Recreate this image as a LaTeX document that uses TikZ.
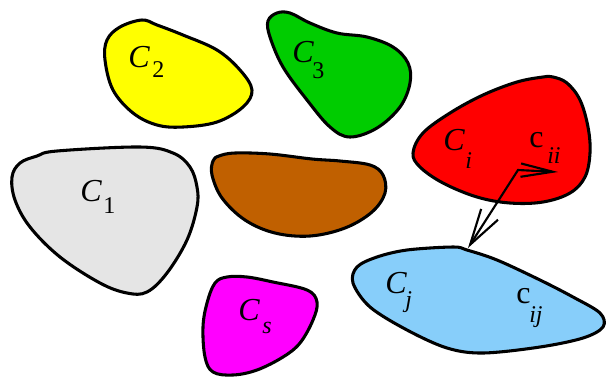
\documentclass[tikz,border=0pt]{standalone}
\usepackage{fontspec}
\setmainfont{Liberation Serif}
\newfontfamily\tmsfont{Liberation Serif}
\usetikzlibrary{arrows.meta}
\definecolor{cgray}{HTML}{E5E5E5}
\definecolor{cyellow}{HTML}{FFFF00}
\definecolor{cgreen}{HTML}{00CC00}
\definecolor{cbrown}{HTML}{C06000}
\definecolor{cmagenta}{HTML}{FF00FF}
\definecolor{cred}{HTML}{FF0000}
\definecolor{cblue}{HTML}{87CEFA}
\tikzset{
  blob/.style={draw=black, line width=2.3pt, line join=round},
  mainlab/.style={anchor=base west, inner sep=0pt, font=\tmsfont\fontsize{24}{24}\selectfont},
  sublab/.style={anchor=base west, inner sep=0pt, font=\tmsfont\fontsize{18}{18}\selectfont},
  arr/.style={line width=1.6pt, line join=miter,
    {Straight Barb[length=27pt,width=15pt,line width=1.6pt]}-{Straight Barb[length=24pt,width=10pt,line width=1.6pt]}}
}
\begin{document}
\begin{tikzpicture}[x=0.75pt,y=-0.75pt]
\useasboundingbox (0,0) rectangle (606,376);
% C1 gray
\draw[blob, fill=cgray] plot[smooth cycle, tension=0.6] coordinates {
 (57,151) (140,147) (173,153) (190,167) (197,187) (197,207) (187,240) (167,273)
 (147,292) (127,293) (100,283) (60,257) (30,227) (15,200) (12,177) (20,163) (37,156)};
% C2 yellow
\draw[blob, fill=cyellow] plot[smooth cycle, tension=0.6] coordinates {
 (142,20) (120,27) (107,40) (105,60) (113,90) (133,113) (157,125) (183,127)
 (217,122) (243,107) (252,90) (240,70) (217,50) (183,35) (157,25)};
% C3 green
\draw[blob, fill=cgreen] plot[smooth cycle, tension=0.6] coordinates {
 (277,13) (268,21) (270,37) (283,67) (307,100) (330,127) (350,137) (377,128)
 (400,107) (410,83) (408,63) (393,47) (367,37) (337,33) (310,23) (290,13)};
% brown
\draw[blob, fill=cbrown] plot[smooth cycle, tension=0.6] coordinates {
 (213,161) (212,175) (222,198) (245,220) (275,233) (310,236) (345,228) (372,212)
 (385,193) (383,175) (370,165) (340,161) (312,159) (270,154) (235,153) (219,156)};
% Cs magenta
\draw[blob, fill=cmagenta] plot[smooth cycle, tension=0.6] coordinates {
 (227,277) (215,283) (207,303) (203,327) (205,357) (213,372) (233,375) (257,370)
 (283,357) (300,343) (313,320) (317,302) (307,290) (273,282) (247,277)};
% Ci red
\draw[blob, fill=cred] plot[smooth cycle, tension=0.6] coordinates {
 (543,77) (517,82) (483,95) (450,113) (423,133) (413,153) (420,167) (443,183)
 (477,197) (510,203) (543,202) (570,193) (585,177) (590,153) (588,127) (580,100)
 (567,83) (553,77)};
% Cj blue
\draw[blob, fill=cblue] plot[smooth cycle, tension=0.55] coordinates {
 (453,247) (407,250) (377,257) (357,267) (353,283) (370,307) (407,330) (447,348)
 (483,353) (540,347) (583,338) (603,327) (600,313) (573,297) (540,280) (497,260)
 (467,250)};
% labels
\node[mainlab] (c1) at (80,201) {\itshape C};
\node[sublab] (c1s) at (103,213) {1};
\node[mainlab] (c2) at (128,67) {\itshape C};
\node[sublab] (c2s) at (152,77) {2};
\node[mainlab] (c3) at (292,62) {\itshape C};
\node[sublab] (c3s) at (312,78) {3};
\node[mainlab] (cs) at (238,320) {\itshape C};
\node[sublab] (css) at (262,333) {\itshape s};
\node[mainlab] (ci) at (443,150) {\itshape C};
\node[sublab] (cis) at (465,168) {\itshape i};
\node[mainlab] (cii) at (529,147) {c};
\node[sublab] (ciis) at (547,163) {\itshape ii};
\node[mainlab] (cj) at (385,293) {\itshape C};
\node[sublab] (cjs) at (405,307) {\itshape j};
\node[mainlab] (cij) at (516,303) {c};
\node[sublab] (cijs) at (529,322) {\itshape ij};
% arrow
\coordinate (ptip) at (468,248);
\coordinate (pcorner) at (518,170);
\coordinate (pright) at (558,172);
\draw[arr] (ptip) -- (pcorner) -- (pright);
\end{tikzpicture}
\end{document}
